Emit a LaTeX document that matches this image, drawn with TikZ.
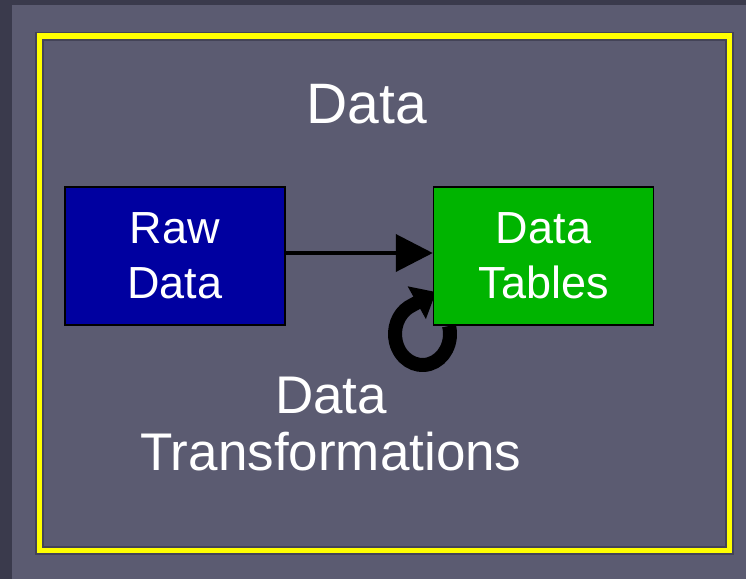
\documentclass[tikz,border=0pt]{standalone}
\usepackage{fontspec}
\setmainfont{Liberation Sans}
\usepackage{tikz}
\usetikzlibrary{arrows.meta,positioning,calc}
\definecolor{slidecolor}{RGB}{91,91,113}
\definecolor{edgecolor}{RGB}{58,58,76}
\definecolor{framecolor}{RGB}{255,255,0}
\definecolor{rawcolor}{RGB}{0,0,160}
\definecolor{tablecolor}{RGB}{0,180,0}
\tikzset{
  databox/.style={draw=black, line width=1.5pt, minimum width=220pt, minimum height=138pt,
    inner sep=0pt, text=white, align=center, font=\fontsize{45}{55}\selectfont},
  slidetext/.style={text=white, align=center, inner sep=0pt, anchor=base},
  flowarrow/.style={line width=4pt, -{Triangle[length=37pt,width=37pt]}},
  looparrow/.style={line width=14pt, -{Triangle[length=22pt,width=36pt]}}
}

\begin{document}
\begin{tikzpicture}[x=1pt,y=-1pt]
\useasboundingbox (0,0) rectangle (746,579);
% slide background
\fill[edgecolor] (0,0) rectangle (746,579);
\fill[slidecolor] (12,5) rectangle (746,579);
\draw[edgecolor, line width=9pt, opacity=0.7] (39.5,36) rectangle (729.5,550.5);
\draw[framecolor, line width=5.5pt] (39.5,36) rectangle (729.5,550.5);

\node[slidetext, font=\fontsize{57}{68}\selectfont] (title) at (367,123) {Data};

% self loop sits under the boxes
\coordinate (loopc) at (422.5,334);
\coordinate (looptip) at ($(loopc)+(13.5,-42)$);
\draw[looparrow] ($(loopc)+(15:27.5pt and 31pt)$)
  arc[start angle=15, end angle=-240, x radius=27.5pt, y radius=31pt] -- (looptip);

\node[databox, fill=rawcolor] (raw) at (175,256) {Raw\\Data};
\node[databox, fill=tablecolor, right=147pt of raw] (tables) {Data\\Tables};
\draw[flowarrow] ([yshift=3pt]raw.east) -- ([yshift=3pt]tables.west);

\node[slidetext, font=\fontsize{53}{57}\selectfont] (transform) at (331,470) {Data\\Transformations};
\end{tikzpicture}
\end{document}
